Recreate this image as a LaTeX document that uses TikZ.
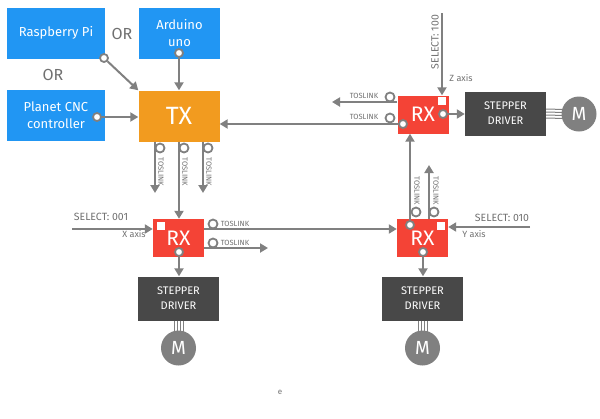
\documentclass[tikz,border=0pt]{standalone}
\usepackage{fontspec}
\setmainfont{Fira Sans}
\usetikzlibrary{arrows.meta}

\definecolor{hostblue}{RGB}{33,150,243}
\definecolor{txorange}{RGB}{242,155,31}
\definecolor{rxred}{RGB}{244,67,54}
\definecolor{drivergray}{RGB}{72,72,72}
\definecolor{wiregray}{RGB}{128,128,128}
\definecolor{labelgray}{RGB}{112,112,112}

\tikzset{
  host/.style={fill=hostblue, text=white, align=center, inner sep=0pt,
    minimum width=98, minimum height=51, font=\fontsize{13}{17}\selectfont},
  txbox/.style={fill=txorange, text=white, inner sep=0pt,
    minimum width=81, minimum height=51, font=\fontsize{25}{25}\selectfont},
  rxbox/.style={fill=rxred, text=white, inner sep=0pt,
    minimum width=51, minimum height=38, font=\fontsize{21}{21}\selectfont},
  driver/.style={fill=drivergray, text=white, align=center, inner sep=0pt,
    minimum width=81, minimum height=44, font=\fontsize{11}{15}\selectfont},
  motor/.style={circle, fill=wiregray, text=white, inner sep=0pt,
    minimum size=35, font=\fontsize{19}{19}\selectfont},
  flag/.style={fill=white, minimum size=8, inner sep=0pt},
  wire/.style={draw=wiregray, line width=2pt, -{Triangle[length=8pt,width=9pt]}},
  jack/.style={circle, draw=wiregray, fill=white, line width=1.8pt,
    inner sep=0pt, minimum size=8},
  plugring/.style={draw=wiregray, fill=white, line width=1.8pt},
  motorwire/.style={draw=wiregray, line width=1pt},
  note/.style={text=labelgray, inner sep=0pt, font=\fontsize{10.5}{12}\selectfont},
  axisnote/.style={text=labelgray, inner sep=0pt, font=\fontsize{9}{10}\selectfont},
  tos/.style={text=labelgray, inner sep=0pt, font=\fontsize{7.5}{8}\selectfont}
}

\begin{document}
\begin{tikzpicture}[x=1pt, y=-1pt]
  \useasboundingbox (0,0) rectangle (600,418);

  % Hosts and the transmitter
  \node[host] (rpi) at (56,33) {Raspberry Pi};
  \node[host, minimum width=81] (uno) at (179.5,33) {Arduino\\uno};
  \node[host] (cnc) at (56,115.5) {Planet CNC\\controller};
  \node[txbox] (tx) at (179,116) {TX};
  \node[note, font=\fontsize{16}{16}\selectfont] (or1) at (122,34) {OR};
  \node[note, font=\fontsize{16}{16}\selectfont] (or2) at (53,75) {OR};

  % Receivers
  \node[rxbox] (rxx) at (178.5,238) {RX};
  \node[rxbox] (rxy) at (422.5,238) {RX};
  \node[rxbox] (rxz) at (423,114.5) {RX};
  \node[flag] (fx) at (160.5,226) {};
  \node[flag] (fy) at (441,226) {};
  \node[flag] (fz) at (441.5,100.5) {};

  % Drivers and motors
  \node[driver] (drvx) at (178.5,298.5) {STEPPER\\DRIVER};
  \node[driver] (drvy) at (422.5,298.5) {STEPPER\\DRIVER};
  \node[driver] (drvz) at (505.5,113.5) {STEPPER\\DRIVER};
  \node[motor] (motx) at (178.5,348) {M};
  \node[motor] (moty) at (422.5,348) {M};
  \node[motor] (motz) at (579,114) {M};

  \foreach \d in {-4.5,-1.5,1.5,4.5} {
    \draw[motorwire] ([xshift=\d pt]drvx.south) -- ([xshift=\d pt, yshift=-3pt]motx.north);
    \draw[motorwire] ([xshift=\d pt]drvy.south) -- ([xshift=\d pt, yshift=-3pt]moty.north);
    \draw[motorwire] ([yshift=\d pt]drvz.east) -- ([yshift=\d pt, xshift=3pt]motz.west);
  }

  % Start points
  \node[jack] (jrpi) at (104,58) {};
  \node[jack] (juno) at (179,53) {};
  \node[jack] (jcnc) at (97,117) {};
  \node[jack] (jzl) at (403,124) {};
  \node[jack] (jzr) at (443,114) {};
  \node[jack] (jx) at (179,252) {};
  \node[jack] (jyl) at (410,225) {};
  \node[jack] (jy) at (423,252) {};

  % Free ends
  \coordinate (zsel) at (442,13);
  \coordinate (zout) at (332,102);
  \coordinate (xsel) at (72,229);
  \coordinate (ysel) at (530,227);
  \coordinate (xout) at (268,248);
  \coordinate (yout) at (429,165);
  \coordinate (txa) at (155,193);
  \coordinate (txc) at (203,193);

  % Links
  \draw[wire] (jrpi) -- (tx.north west);
  \draw[wire] (juno) -- (tx.north -| juno);
  \draw[wire] (jcnc) -- (tx.west |- jcnc);
  \draw[wire] (jzl) -- (jzl -| tx.east);
  \draw[wire] (rxz.west |- zout) -- (zout);
  \draw[wire] (zsel) -- (zsel |- rxz.north);
  \draw[wire] (jzr) -- (drvz.west |- jzr);
  \draw[wire] (tx.south -| txa) -- (txa);
  \draw[wire] (tx.south -| juno) -- (rxx.north -| juno);
  \draw[wire] (tx.south -| txc) -- (txc);
  \draw[wire] (xsel) -- (rxx.west |- xsel);
  \draw[wire] (rxx.east |- xsel) -- (rxy.west |- xsel);
  \draw[wire] (rxx.east |- xout) -- (xout);
  \draw[wire] (jx) -- (jx |- drvx.north);
  \draw[wire] (ysel) -- (rxy.east |- ysel);
  \draw[wire] (jyl) -- (jyl |- rxz.south);
  \draw[wire] (rxy.north -| yout) -- (yout);
  \draw[wire] (jy) -- (jy |- drvy.north);

  % TOSLINK plugs
  \foreach \p in {(160,148),(184,148),(208,148),(213,224),(213,243),
                  (390,97),(390,118),(416,212),(434,212)}
    \draw[plugring] \p circle (4.5pt);

  \node[tos, rotate=-90] (ta) at (161,172) {TOSLINK};
  \node[tos, rotate=-90] (tb) at (185,172) {TOSLINK};
  \node[tos, rotate=-90] (tc) at (209,172) {TOSLINK};
  \node[tos] (td) at (235,224) {TOSLINK};
  \node[tos] (te) at (235,243) {TOSLINK};
  \node[tos] (tf) at (364,96) {TOSLINK};
  \node[tos] (tg) at (364,117) {TOSLINK};
  \node[tos, rotate=-90] (th) at (417,191) {TOSLINK};
  \node[tos, rotate=-90] (ti) at (436,191) {TOSLINK};

  % Axis selection
  \node[note, rotate=90] (zselect) at (435,42) {SELECT: 100};
  \node[axisnote] (zaxis) at (461,78) {Z axis};
  \node[note] (xselect) at (101,217) {SELECT: 001};
  \node[axisnote] (xaxis) at (134,234) {X axis};
  \node[note] (yselect) at (502,218) {SELECT: 010};
  \node[axisnote] (yaxis) at (474,234) {Y axis};

  \node[text=labelgray, font=\fontsize{8}{8}\selectfont] (mark) at (280,392) {e};

\end{tikzpicture}
\end{document}
